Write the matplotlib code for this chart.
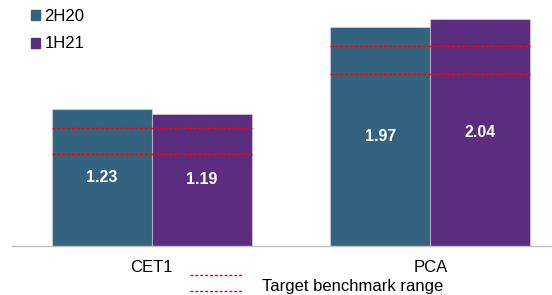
import matplotlib.pyplot as plt
from matplotlib.patches import Patch
from matplotlib.lines import Line2D
import numpy as np

plt.rcParams['font.family'] = ['Liberation Sans', 'DejaVu Sans']

categories = ['CET1', 'PCA']
series_names = ['2H20', '1H21']
values_2h20 = [1.23, 1.97]
values_1h21 = [1.19, 2.04]
bench_low = [0.83, 1.55]
bench_high = [1.06, 1.80]
bench_label = 'Target benchmark range'

c_2h20 = '#33637f'
c_1h21 = '#5a2d7e'
dash = (0, (2.2, 1.3))

W, H = 552, 295
fig = plt.figure(figsize=(W / 100, H / 100), dpi=100)
ax = fig.add_axes([12 / W, 49 / H, 540 / W, 244.4 / H])

x = np.arange(len(categories))
w = 0.3587
edge = (1, 1, 1, 0.35)
b1 = ax.bar(x - w / 2, values_2h20, w, color=c_2h20, edgecolor=edge, linewidth=0.8)
b2 = ax.bar(x + w / 2, values_1h21, w, color=c_1h21, edgecolor=edge, linewidth=0.8)

for bars, vals in [(b1, values_2h20), (b2, values_1h21)]:
    for b, v in zip(bars, vals):
        ax.text(b.get_x() + b.get_width() / 2, v / 2, f'{v:.2f}', ha='center', va='center',
                color='white', fontsize=11.5, fontweight='bold')

# benchmark range lines
for i in range(len(categories)):
    for yv in (bench_low[i], bench_high[i]):
        ax.plot([x[i] - w, x[i] + w], [yv, yv], color='#ff0000', lw=1.0, linestyle=dash)

ax.set_xlim(-0.501, 1.436)
ax.set_ylim(0, 2.2)
ax.set_xticks(x)
ax.set_xticklabels(categories, fontsize=12)
ax.tick_params(axis='x', length=0, pad=10)
ax.set_yticks([])
for s in ['top', 'right', 'left']:
    ax.spines[s].set_visible(False)
ax.spines['bottom'].set_color('#c0c0c0')
ax.spines['bottom'].set_linewidth(1.0)

handles = [Patch(color=c_2h20, label=series_names[0]), Patch(color=c_1h21, label=series_names[1])]
fig.legend(handles=handles, loc='upper left', bbox_to_anchor=(31 / W, 1 - 9 / H),
           frameon=False, fontsize=12, handlelength=0.55, handleheight=0.55,
           handletextpad=0.25, labelspacing=0.75, borderpad=0, borderaxespad=0)

# bottom legend for benchmark range
for yy in (275.3, 291):
    fig.add_artist(Line2D([190 / W, 242 / W], [1 - yy / H, 1 - yy / H], transform=fig.transFigure,
                          color='#ff0000', lw=1.0, linestyle=dash))
fig.text(262 / W, 1 - 286 / H, bench_label, ha='left', va='center', fontsize=12)

fig.savefig('out.png', dpi=100)
